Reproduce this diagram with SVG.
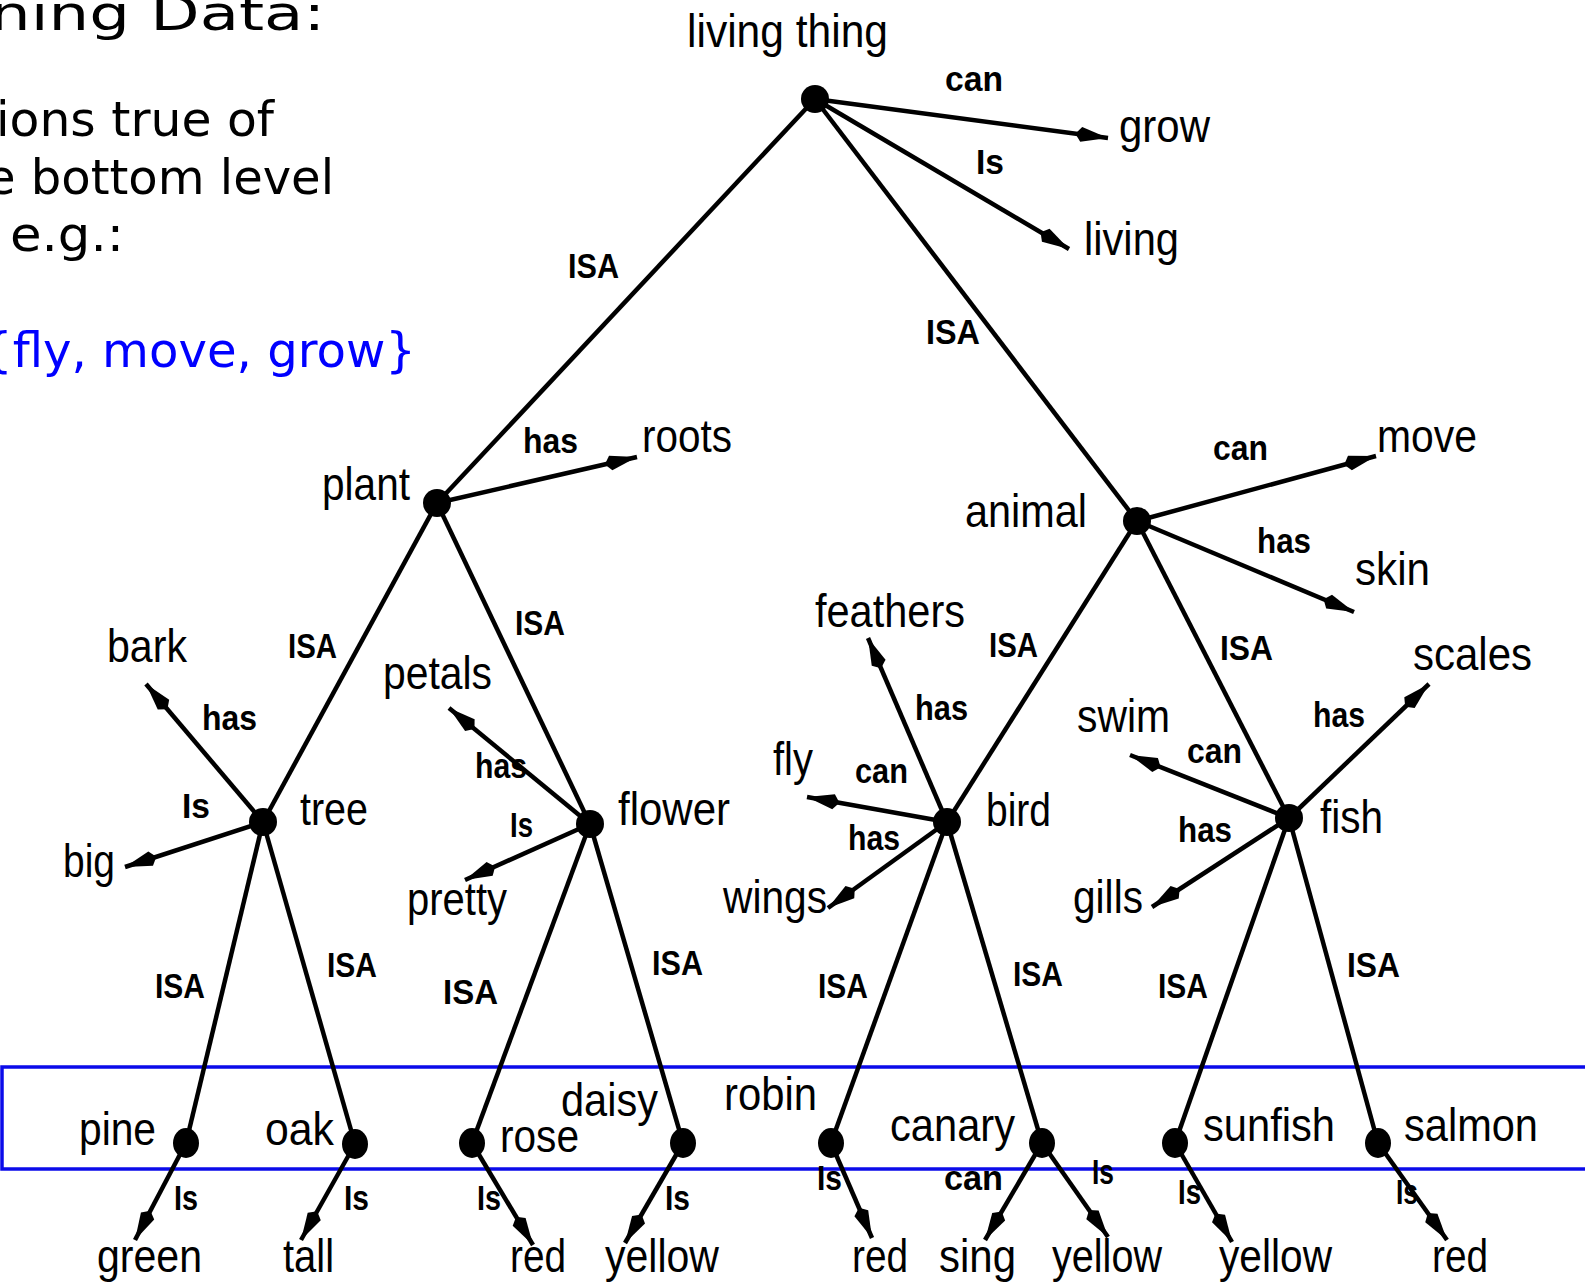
<svg xmlns="http://www.w3.org/2000/svg" width="1585" height="1283" viewBox="0 0 1585 1283">
  <style>
    .slide { font-family: "DejaVu Sans", Verdana, sans-serif; font-size: 48px; fill: #000; }
    .blue { fill: #0000ff; }
    .lbl { font-family: "Liberation Sans", Arial, Helvetica, sans-serif; font-size: 46px; fill: #000; }
    .rel { font-family: "Liberation Sans", Arial, Helvetica, sans-serif; font-size: 35px; font-weight: bold; fill: #000; }
    .edge { stroke: #000; stroke-width: 4.5; fill: none; }
    .arrow { marker-end: url(#head); }
    .dot { fill: #000; }
  </style>
  <defs>
    <!-- long kite-shaped arrowhead -->
    <marker id="head" markerUnits="userSpaceOnUse" markerWidth="40" markerHeight="18" refX="36" refY="9" orient="auto" overflow="visible">
      <path d="M36,9 L9,1.5 L3,9 L9,16.5 Z" fill="#000"/>
    </marker>
  </defs>

  <rect width="1585" height="1283" fill="#fff"/>

  <!-- slide text on the left -->
  <g id="slide-text">
    <text class="slide" x="-10" y="30" font-size="62" textLength="335" lengthAdjust="spacingAndGlyphs">ning Data:</text>
    <text class="slide" x="-4" y="136" textLength="278" lengthAdjust="spacingAndGlyphs">ions true of</text>
    <text class="slide" x="-14" y="194" textLength="348" lengthAdjust="spacingAndGlyphs">e bottom level</text>
    <text class="slide" x="10" y="251" textLength="114" lengthAdjust="spacingAndGlyphs">e.g.:</text>
    <text class="slide blue" x="-18" y="367" textLength="434" lengthAdjust="spacingAndGlyphs">{fly, move, grow}</text>
  </g>

  <!-- bottom-level frame -->
  <rect id="bottom-level" x="2" y="1067" width="1600" height="102" fill="none" stroke="#0b0bea" stroke-width="3.5"/>

  <g id="connectors">
    <!-- ISA links -->
    <line class="edge" x1="815" y1="99" x2="437" y2="503"/>
    <line class="edge" x1="815" y1="99" x2="1137" y2="521"/>
    <line class="edge" x1="437" y1="503" x2="263" y2="822"/>
    <line class="edge" x1="437" y1="503" x2="590" y2="824"/>
    <line class="edge" x1="1137" y1="521" x2="947" y2="822"/>
    <line class="edge" x1="1137" y1="521" x2="1289" y2="818"/>
    <line class="edge" x1="263" y1="822" x2="186" y2="1143"/>
    <line class="edge" x1="263" y1="822" x2="355" y2="1144"/>
    <line class="edge" x1="590" y1="824" x2="472" y2="1143"/>
    <line class="edge" x1="590" y1="824" x2="683" y2="1143"/>
    <line class="edge" x1="947" y1="822" x2="831" y2="1143"/>
    <line class="edge" x1="947" y1="822" x2="1042" y2="1143"/>
    <line class="edge" x1="1289" y1="818" x2="1175" y2="1143"/>
    <line class="edge" x1="1289" y1="818" x2="1378" y2="1143"/>
    <!-- property links -->
    <line class="edge arrow" x1="815" y1="99" x2="1108" y2="138"/>
    <line class="edge arrow" x1="815" y1="99" x2="1069" y2="249"/>
    <line class="edge arrow" x1="437" y1="503" x2="637" y2="457"/>
    <line class="edge arrow" x1="1137" y1="521" x2="1376" y2="456"/>
    <line class="edge arrow" x1="1137" y1="521" x2="1354" y2="612"/>
    <line class="edge arrow" x1="263" y1="822" x2="146" y2="684"/>
    <line class="edge arrow" x1="263" y1="822" x2="125" y2="867"/>
    <line class="edge arrow" x1="590" y1="824" x2="449" y2="708"/>
    <line class="edge arrow" x1="590" y1="824" x2="465" y2="880"/>
    <line class="edge arrow" x1="947" y1="822" x2="868" y2="638"/>
    <line class="edge arrow" x1="947" y1="822" x2="807" y2="797"/>
    <line class="edge arrow" x1="947" y1="822" x2="828" y2="908"/>
    <line class="edge arrow" x1="1289" y1="818" x2="1429" y2="684"/>
    <line class="edge arrow" x1="1289" y1="818" x2="1130" y2="755"/>
    <line class="edge arrow" x1="1289" y1="818" x2="1152" y2="907"/>
    <line class="edge arrow" x1="186" y1="1143" x2="135" y2="1240"/>
    <line class="edge arrow" x1="355" y1="1144" x2="301" y2="1240"/>
    <line class="edge arrow" x1="472" y1="1143" x2="533" y2="1245"/>
    <line class="edge arrow" x1="683" y1="1143" x2="625" y2="1243"/>
    <line class="edge arrow" x1="831" y1="1143" x2="872" y2="1238"/>
    <line class="edge arrow" x1="1042" y1="1143" x2="985" y2="1240"/>
    <line class="edge arrow" x1="1042" y1="1143" x2="1108" y2="1237"/>
    <line class="edge arrow" x1="1175" y1="1143" x2="1232" y2="1242"/>
    <line class="edge arrow" x1="1378" y1="1143" x2="1447" y2="1240"/>
  </g>

  <g id="edge-labels">
    <text class="rel" x="945" y="91" textLength="58" lengthAdjust="spacingAndGlyphs">can</text>
    <text class="rel" x="976" y="174" textLength="28" lengthAdjust="spacingAndGlyphs">Is</text>
    <text class="rel" x="568" y="278" textLength="51" lengthAdjust="spacingAndGlyphs">ISA</text>
    <text class="rel" x="926" y="344" textLength="54" lengthAdjust="spacingAndGlyphs">ISA</text>
    <text class="rel" x="523" y="453" textLength="55" lengthAdjust="spacingAndGlyphs">has</text>
    <text class="rel" x="288" y="658" textLength="49" lengthAdjust="spacingAndGlyphs">ISA</text>
    <text class="rel" x="515" y="635" textLength="50" lengthAdjust="spacingAndGlyphs">ISA</text>
    <text class="rel" x="1213" y="460" textLength="55" lengthAdjust="spacingAndGlyphs">can</text>
    <text class="rel" x="1257" y="553" textLength="54" lengthAdjust="spacingAndGlyphs">has</text>
    <text class="rel" x="989" y="657" textLength="49" lengthAdjust="spacingAndGlyphs">ISA</text>
    <text class="rel" x="1220" y="660" textLength="53" lengthAdjust="spacingAndGlyphs">ISA</text>
    <text class="rel" x="202" y="730" textLength="55" lengthAdjust="spacingAndGlyphs">has</text>
    <text class="rel" x="182" y="818" textLength="28" lengthAdjust="spacingAndGlyphs">Is</text>
    <text class="rel" x="475" y="778" textLength="52" lengthAdjust="spacingAndGlyphs">has</text>
    <text class="rel" x="510" y="837" textLength="23" lengthAdjust="spacingAndGlyphs">Is</text>
    <text class="rel" x="915" y="720" textLength="53" lengthAdjust="spacingAndGlyphs">has</text>
    <text class="rel" x="855" y="783" textLength="53" lengthAdjust="spacingAndGlyphs">can</text>
    <text class="rel" x="848" y="850" textLength="52" lengthAdjust="spacingAndGlyphs">has</text>
    <text class="rel" x="1313" y="727" textLength="52" lengthAdjust="spacingAndGlyphs">has</text>
    <text class="rel" x="1187" y="763" textLength="55" lengthAdjust="spacingAndGlyphs">can</text>
    <text class="rel" x="1178" y="842" textLength="54" lengthAdjust="spacingAndGlyphs">has</text>
    <text class="rel" x="155" y="998" textLength="50" lengthAdjust="spacingAndGlyphs">ISA</text>
    <text class="rel" x="327" y="977" textLength="50" lengthAdjust="spacingAndGlyphs">ISA</text>
    <text class="rel" x="443" y="1004" textLength="55" lengthAdjust="spacingAndGlyphs">ISA</text>
    <text class="rel" x="652" y="975" textLength="51" lengthAdjust="spacingAndGlyphs">ISA</text>
    <text class="rel" x="818" y="998" textLength="50" lengthAdjust="spacingAndGlyphs">ISA</text>
    <text class="rel" x="1013" y="986" textLength="50" lengthAdjust="spacingAndGlyphs">ISA</text>
    <text class="rel" x="1158" y="998" textLength="50" lengthAdjust="spacingAndGlyphs">ISA</text>
    <text class="rel" x="1347" y="977" textLength="53" lengthAdjust="spacingAndGlyphs">ISA</text>
    <text class="rel" x="174" y="1210" textLength="24" lengthAdjust="spacingAndGlyphs">Is</text>
    <text class="rel" x="344" y="1210" textLength="25" lengthAdjust="spacingAndGlyphs">Is</text>
    <text class="rel" x="477" y="1210" textLength="24" lengthAdjust="spacingAndGlyphs">Is</text>
    <text class="rel" x="665" y="1210" textLength="25" lengthAdjust="spacingAndGlyphs">Is</text>
    <text class="rel" x="817" y="1190" textLength="25" lengthAdjust="spacingAndGlyphs">Is</text>
    <text class="rel" x="944" y="1190" textLength="59" lengthAdjust="spacingAndGlyphs">can</text>
    <text class="rel" x="1092" y="1184" textLength="22" lengthAdjust="spacingAndGlyphs">Is</text>
    <text class="rel" x="1178" y="1204" textLength="23" lengthAdjust="spacingAndGlyphs">Is</text>
    <text class="rel" x="1396" y="1204" textLength="22" lengthAdjust="spacingAndGlyphs">Is</text>
  </g>

  <!-- concept nodes -->
  <g id="living-thing"><circle class="dot" cx="815" cy="99" r="14"/><text class="lbl" x="687" y="47" textLength="201" lengthAdjust="spacingAndGlyphs">living thing</text></g>
  <g id="plant"><circle class="dot" cx="437" cy="503" r="14"/><text class="lbl" x="322" y="500" textLength="88" lengthAdjust="spacingAndGlyphs">plant</text></g>
  <g id="animal"><circle class="dot" cx="1137" cy="521" r="14"/><text class="lbl" x="965" y="527" textLength="122" lengthAdjust="spacingAndGlyphs">animal</text></g>
  <g id="tree"><circle class="dot" cx="263" cy="822" r="14"/><text class="lbl" x="300" y="825" textLength="68" lengthAdjust="spacingAndGlyphs">tree</text></g>
  <g id="flower"><circle class="dot" cx="590" cy="824" r="14"/><text class="lbl" x="618" y="825" textLength="112" lengthAdjust="spacingAndGlyphs">flower</text></g>
  <g id="bird"><circle class="dot" cx="947" cy="822" r="14"/><text class="lbl" x="986" y="826" textLength="65" lengthAdjust="spacingAndGlyphs">bird</text></g>
  <g id="fish"><circle class="dot" cx="1289" cy="818" r="14"/><text class="lbl" x="1320" y="833" textLength="63" lengthAdjust="spacingAndGlyphs">fish</text></g>

  <!-- bottom-level concepts -->
  <g id="pine"><ellipse class="dot" cx="186" cy="1143" rx="13" ry="15"/><text class="lbl" x="79" y="1145" textLength="77" lengthAdjust="spacingAndGlyphs">pine</text></g>
  <g id="oak"><ellipse class="dot" cx="355" cy="1144" rx="13" ry="15"/><text class="lbl" x="265" y="1145" textLength="69" lengthAdjust="spacingAndGlyphs">oak</text></g>
  <g id="rose"><ellipse class="dot" cx="472" cy="1143" rx="13" ry="15"/><text class="lbl" x="500" y="1152" textLength="79" lengthAdjust="spacingAndGlyphs">rose</text></g>
  <g id="daisy"><ellipse class="dot" cx="683" cy="1143" rx="13" ry="15"/><text class="lbl" x="561" y="1116" textLength="97" lengthAdjust="spacingAndGlyphs">daisy</text></g>
  <g id="robin"><ellipse class="dot" cx="831" cy="1143" rx="13" ry="15"/><text class="lbl" x="724" y="1110" textLength="93" lengthAdjust="spacingAndGlyphs">robin</text></g>
  <g id="canary"><ellipse class="dot" cx="1042" cy="1143" rx="13" ry="15"/><text class="lbl" x="890" y="1141" textLength="125" lengthAdjust="spacingAndGlyphs">canary</text></g>
  <g id="sunfish"><ellipse class="dot" cx="1175" cy="1143" rx="13" ry="15"/><text class="lbl" x="1203" y="1141" textLength="132" lengthAdjust="spacingAndGlyphs">sunfish</text></g>
  <g id="salmon"><ellipse class="dot" cx="1378" cy="1143" rx="13" ry="15"/><text class="lbl" x="1404" y="1141" textLength="134" lengthAdjust="spacingAndGlyphs">salmon</text></g>

  <!-- property values -->
  <g id="grow"><text class="lbl" x="1119" y="142" textLength="91" lengthAdjust="spacingAndGlyphs">grow</text></g>
  <g id="living"><text class="lbl" x="1084" y="255" textLength="95" lengthAdjust="spacingAndGlyphs">living</text></g>
  <g id="roots"><text class="lbl" x="642" y="452" textLength="90" lengthAdjust="spacingAndGlyphs">roots</text></g>
  <g id="move"><text class="lbl" x="1377" y="452" textLength="100" lengthAdjust="spacingAndGlyphs">move</text></g>
  <g id="skin"><text class="lbl" x="1355" y="585" textLength="75" lengthAdjust="spacingAndGlyphs">skin</text></g>
  <g id="bark"><text class="lbl" x="107" y="662" textLength="80" lengthAdjust="spacingAndGlyphs">bark</text></g>
  <g id="big"><text class="lbl" x="63" y="877" textLength="52" lengthAdjust="spacingAndGlyphs">big</text></g>
  <g id="petals"><text class="lbl" x="383" y="689" textLength="109" lengthAdjust="spacingAndGlyphs">petals</text></g>
  <g id="pretty"><text class="lbl" x="407" y="915" textLength="100" lengthAdjust="spacingAndGlyphs">pretty</text></g>
  <g id="feathers"><text class="lbl" x="815" y="627" textLength="150" lengthAdjust="spacingAndGlyphs">feathers</text></g>
  <g id="fly"><text class="lbl" x="773" y="775" textLength="40" lengthAdjust="spacingAndGlyphs">fly</text></g>
  <g id="wings"><text class="lbl" x="723" y="913" textLength="104" lengthAdjust="spacingAndGlyphs">wings</text></g>
  <g id="scales"><text class="lbl" x="1413" y="670" textLength="119" lengthAdjust="spacingAndGlyphs">scales</text></g>
  <g id="swim"><text class="lbl" x="1077" y="732" textLength="93" lengthAdjust="spacingAndGlyphs">swim</text></g>
  <g id="gills"><text class="lbl" x="1073" y="913" textLength="70" lengthAdjust="spacingAndGlyphs">gills</text></g>
  <g id="green"><text class="lbl" x="97" y="1272" textLength="105" lengthAdjust="spacingAndGlyphs">green</text></g>
  <g id="tall"><text class="lbl" x="283" y="1272" textLength="51" lengthAdjust="spacingAndGlyphs">tall</text></g>
  <g id="red-rose"><text class="lbl" x="510" y="1272" textLength="56" lengthAdjust="spacingAndGlyphs">red</text></g>
  <g id="yellow-daisy"><text class="lbl" x="605" y="1272" textLength="114" lengthAdjust="spacingAndGlyphs">yellow</text></g>
  <g id="red-robin"><text class="lbl" x="852" y="1272" textLength="56" lengthAdjust="spacingAndGlyphs">red</text></g>
  <g id="sing"><text class="lbl" x="939" y="1272" textLength="77" lengthAdjust="spacingAndGlyphs">sing</text></g>
  <g id="yellow-canary"><text class="lbl" x="1052" y="1272" textLength="110" lengthAdjust="spacingAndGlyphs">yellow</text></g>
  <g id="yellow-sunfish"><text class="lbl" x="1219" y="1272" textLength="113" lengthAdjust="spacingAndGlyphs">yellow</text></g>
  <g id="red-salmon"><text class="lbl" x="1432" y="1272" textLength="56" lengthAdjust="spacingAndGlyphs">red</text></g>
</svg>
